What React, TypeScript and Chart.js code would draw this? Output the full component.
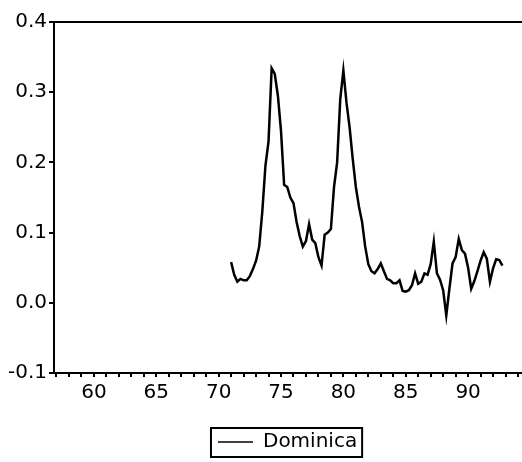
import React, { useEffect, useRef } from "react";
import { Chart, registerables } from "chart.js";

Chart.register(...registerables);

// Quarterly series, 1971Q1 .. 1992Q4
const seriesLabel = "Dominica";
const startYear = 71;
const dominica = [
  0.058, 0.040, 0.030, 0.034, // 71
  0.032, 0.032, 0.038, 0.048, // 72
  0.060, 0.080, 0.130, 0.195, // 73
  0.230, 0.334, 0.326, 0.295, // 74
  0.245, 0.168, 0.165, 0.150, // 75
  0.142, 0.115, 0.095, 0.080, // 76
  0.088, 0.112, 0.090, 0.085, // 77
  0.065, 0.053, 0.097, 0.100, // 78
  0.105, 0.165, 0.200, 0.290, // 79
  0.331, 0.285, 0.250, 0.205, // 80
  0.165, 0.137, 0.115, 0.080, // 81
  0.055, 0.045, 0.042, 0.048, // 82
  0.056, 0.045, 0.034, 0.032, // 83
  0.028, 0.028, 0.032, 0.017, // 84
  0.016, 0.018, 0.025, 0.042, // 85
  0.027, 0.030, 0.042, 0.040, // 86
  0.055, 0.087, 0.042, 0.033, // 87
  0.018, -0.018, 0.020, 0.056, // 88
  0.065, 0.091, 0.075, 0.070, // 89
  0.050, 0.020, 0.031, 0.045, // 90
  0.060, 0.072, 0.063, 0.030, // 91
  0.049, 0.062, 0.061, 0.053, // 92
];

const xMin = 56.8;
const xMax = 94.25;
const yMin = -0.1;
const yMax = 0.4;

const FONT = "'DejaVu Sans', sans-serif";

// Frame drawn around the legend entry
const legendFrame = {
  id: "legendFrame",
  afterDraw(chart: any) {
    const boxes = chart.legend && chart.legend.legendHitBoxes;
    if (!boxes || !boxes.length) return;
    const hb = boxes[0];
    const ctx = chart.ctx;
    ctx.save();
    ctx.strokeStyle = "#000";
    ctx.lineWidth = 2;
    ctx.strokeRect(hb.left - 7, hb.top - 4, hb.width + 12, hb.height + 9);
    ctx.restore();
  },
};

export default function App() {
  const canvasRef = useRef<HTMLCanvasElement | null>(null);

  useEffect(() => {
    if (!canvasRef.current) return;
    Chart.defaults.color = "#000";
    const points = dominica.map((v, i) => ({ x: startYear + i * 0.25, y: v }));

    const chart = new Chart(canvasRef.current, {
      type: "line",
      data: {
        datasets: [
          {
            label: seriesLabel,
            data: points,
            borderColor: "#000",
            backgroundColor: "#000",
            borderWidth: 2.5,
            pointRadius: 0,
            tension: 0,
          },
        ],
      },
      options: {
        animation: false,
        responsive: true,
        maintainAspectRatio: false,
        layout: { padding: { top: 22, right: 0, left: 0, bottom: 0 } },
        plugins: {
          tooltip: { enabled: false },
          legend: {
            position: "bottom",
            fullSize: false,
            labels: {
              color: "#000",
              font: { family: FONT, size: 20 },
              boxWidth: 35,
              boxHeight: 1.5,
              padding: 10,
              generateLabels: (c: any) =>
                c.data.datasets.map((ds: any, i: number) => ({
                  text: ds.label,
                  fillStyle: "#000",
                  strokeStyle: "#000",
                  lineWidth: 0,
                  hidden: false,
                  datasetIndex: i,
                  fontColor: "#000",
                })),
            },
          },
        },
        scales: {
          x: {
            type: "linear",
            position: "bottom",
            min: xMin,
            max: xMax,
            afterFit: (s: any) => {
              s.height = 49;
            },
            border: { display: true, color: "#000", width: 2 },
            grid: {
              display: true,
              drawOnChartArea: false,
              drawTicks: true,
              tickLength: 4,
              color: "#000",
              lineWidth: 2,
            },
            ticks: {
              stepSize: 1,
              includeBounds: false,
              autoSkip: false,
              maxRotation: 0,
              padding: 4,
              color: "#000",
              font: { family: FONT, size: 20 },
              callback: (v: any) => {
                const n = Math.round(Number(v));
                return n % 5 === 0 ? String(n) : "";
              },
            },
          },
          x2: {
            type: "linear",
            position: "top",
            min: xMin,
            max: xMax,
            afterFit: (s: any) => {
              s.height = 0;
            },
            border: { display: true, color: "#000", width: 2 },
            grid: { display: false },
            ticks: { display: false },
          },
          y: {
            type: "linear",
            min: yMin,
            max: yMax,
            afterFit: (s: any) => {
              s.width = 54;
            },
            border: { display: true, color: "#000", width: 2 },
            grid: {
              display: true,
              drawOnChartArea: false,
              drawTicks: true,
              tickLength: 5,
              color: "#000",
              lineWidth: 2,
            },
            ticks: {
              stepSize: 0.1,
              padding: 2,
              color: "#000",
              font: { family: FONT, size: 20 },
              callback: (v: any) => Number(v).toFixed(1),
            },
          },
        },
      },
      plugins: [legendFrame],
    });

    return () => chart.destroy();
  }, []);

  return (
    <div
      style={{
        position: "fixed",
        left: 0,
        top: 0,
        width: 522,
        height: 462,
        background: "#fff",
      }}
    >
      <canvas ref={canvasRef} />
    </div>
  );
}
